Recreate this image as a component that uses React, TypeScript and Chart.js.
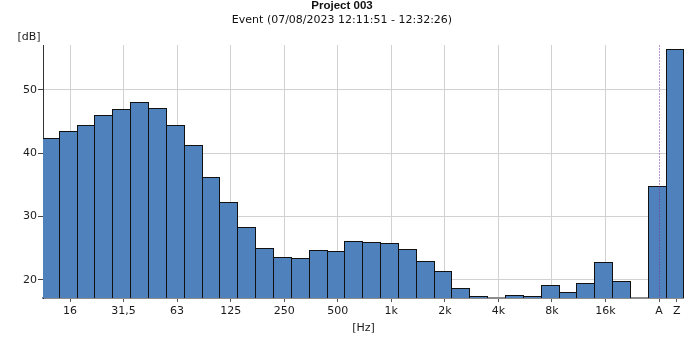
import React, { useEffect, useRef } from 'react';
import { Chart, registerables } from 'chart.js';

Chart.register(...registerables);

// ---- data ----
const bandLabels = ['12,5', '16', '20', '25', '31,5', '40', '50', '63', '80', '100', '125', '160', '200', '250', '315', '400', '500', '630', '800', '1k', '1,25k', '1,6k', '2k', '2,5k', '3,15k', '4k', '5k', '6,3k', '8k', '10k', '12,5k', '16k', '20k', '', 'A', 'Z'];
const levels: (number | null)[] = [42.4, 43.5, 44.4, 46.0, 47.0, 48.1, 47.2, 44.4, 41.3, 36.2, 32.3, 28.4, 25.1, 23.6, 23.5, 24.7, 24.6, 26.2, 26.0, 25.8, 24.9, 23.0, 21.4, 18.7, 17.4, null, 17.6, 17.4, 19.2, 18.1, 19.5, 22.9, 19.8, null, 34.8, 56.5];
const xTickLabels = ['16', '31,5', '63', '125', '250', '500', '1k', '2k', '4k', '8k', '16k', 'A', 'Z'];
const yTickValues = [20, 30, 40, 50];
const titleText = 'Project 003';
const subtitleText = 'Event (07/08/2023 12:11:51 - 12:32:26)';
const yUnit = '[dB]';
const xUnit = '[Hz]';
const markerLabel = 'A';

const FONT = "'DejaVu Sans', sans-serif";
const TITLE_FONT = "'Liberation Sans', 'DejaVu Sans', sans-serif";
const TICK_SHIFT = 0.1;

export default function App() {
  const ref = useRef<HTMLCanvasElement | null>(null);

  useEffect(() => {
    if (!ref.current) return;

    const points = levels
      .map((v, i) => ({ x: i, y: v }))
      .filter((p) => p.y !== null);

    const extras = {
      id: 'extras',
      beforeDatasetsDraw(chart: any) {
        // snap bar edges to whole pixels so the outlines stay crisp
        chart.getSortedVisibleDatasetMetas().forEach((meta: any) => {
          meta.data.forEach((el: any) => {
            const l = Math.round(el.x - el.width / 2);
            const r = Math.round(el.x + el.width / 2);
            el.x = (l + r) / 2;
            el.width = r - l;
            el.y = Math.round(el.y);
            el.base = Math.round(el.base);
          });
        });
      },
      afterDatasetsDraw(chart: any) {
        const { ctx, chartArea, scales } = chart;
        const x = Math.round(scales.x.getPixelForValue(bandLabels.indexOf(markerLabel) + TICK_SHIFT)) + 0.5;
        ctx.save();
        ctx.strokeStyle = 'rgba(125,45,160,0.5)';
        ctx.lineWidth = 1;
        ctx.setLineDash([2, 1]);
        ctx.beginPath();
        ctx.moveTo(x, chartArea.top);
        ctx.lineTo(x, chartArea.bottom);
        ctx.stroke();
        ctx.restore();
      },
      afterDraw(chart: any) {
        const { ctx } = chart;
        ctx.save();
        ctx.font = `11px ${FONT}`;
        ctx.fillStyle = '#1a1a1a';
        ctx.textAlign = 'center';
        ctx.textBaseline = 'middle';
        ctx.fillText(yUnit, 29, 37);
        ctx.restore();
      },
    };

    const chart = new Chart(ref.current, {
      type: 'bar',
      data: {
        datasets: [
          {
            data: points as any,
            backgroundColor: '#4f81bd',
            borderColor: '#111',
            borderWidth: 1,
            barPercentage: 1.056,
            categoryPercentage: 1,
          },
        ],
      },
      options: {
        responsive: false,
        animation: false,
        layout: { padding: 0 },
        plugins: {
          legend: { display: false },
          tooltip: { enabled: false },
          title: {
            display: true,
            text: titleText,
            color: '#111',
            font: { family: TITLE_FONT, size: 11.5, weight: 'bold', lineHeight: '12px' },
            padding: { top: 0, bottom: 0 },
          },
          subtitle: {
            display: true,
            text: subtitleText,
            color: '#111',
            font: { family: FONT, size: 11, lineHeight: '16px' },
            padding: { top: 0, bottom: 17 },
          },
        },
        scales: {
          x: {
            type: 'linear',
            min: -0.413,
            max: 35.5,
            offset: false,
            afterBuildTicks: (s: any) => {
              s.ticks = xTickLabels.map((l) => ({ value: bandLabels.indexOf(l) + TICK_SHIFT }));
            },
            afterFit: (s: any) => {
              s.height = 40;
            },
            ticks: {
              autoSkip: false,
              maxRotation: 0,
              padding: 3,
              color: '#1a1a1a',
              font: { family: FONT, size: 11 },
              callback: (v: any) => bandLabels[Math.round(Number(v) - TICK_SHIFT)],
            },
            grid: {
              offset: false,
              color: (c: any) => {
                const lbl = bandLabels[Math.round(Number(c.tick?.value) - TICK_SHIFT)];
                return lbl === 'A' || lbl === 'Z' ? 'rgba(0,0,0,0)' : '#d2d2d2';
              },
              tickColor: '#555',
              tickLength: 4,
            },
            border: { color: '#8c8c8c', width: 2 },
            title: {
              display: true,
              text: xUnit,
              color: '#1a1a1a',
              font: { family: FONT, size: 11 },
              padding: { top: 0, bottom: 3 },
            },
          },
          y: {
            min: 17.15,
            max: 57.1,
            afterBuildTicks: (s: any) => {
              s.ticks = yTickValues.map((v) => ({ value: v }));
            },
            afterFit: (s: any) => {
              s.width = 43;
            },
            ticks: {
              padding: 1,
              color: '#1a1a1a',
              font: { family: FONT, size: 11 },
            },
            grid: {
              color: '#d2d2d2',
              tickColor: '#444',
              tickLength: 5,
            },
            border: { color: '#333', width: 1 },
          },
        },
      },
      plugins: [extras],
    });

    return () => chart.destroy();
  }, []);

  return (
    <div style={{ position: 'absolute', left: 0, top: 0, width: 684, height: 338 }}>
      <canvas ref={ref} width={684} height={338} style={{ display: 'block' }} />
    </div>
  );
}
